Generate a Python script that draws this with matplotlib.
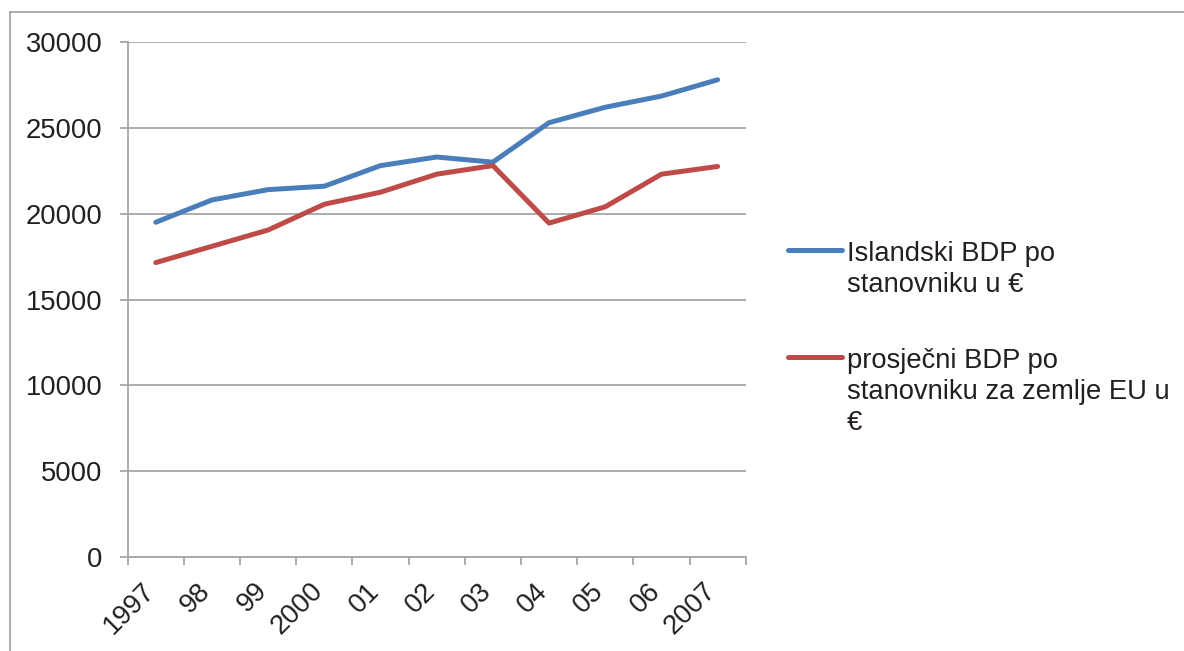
import numpy as np
import matplotlib
matplotlib.use("Agg")
import matplotlib.pyplot as plt
from matplotlib.lines import Line2D
from matplotlib.transforms import ScaledTranslation

plt.rcParams['font.family'] = ['Liberation Sans', 'DejaVu Sans']

years = ["1997", "98", "99", "2000", "01", "02", "03", "04", "05", "06", "2007"]
iceland_gdp = [19500, 20800, 21400, 21600, 22800, 23300, 23000, 25300, 26200, 26850, 27800]
eu_avg_gdp = [17150, 18100, 19050, 20550, 21250, 22300, 22800, 19450, 20400, 22300, 22750]
series_labels = ["Islandski BDP po\nstanovniku u €",
                 "prosječni BDP po\nstanovniku za zemlje EU u\n€"]
y_ticks = [0, 5000, 10000, 15000, 20000, 25000, 30000]

BLUE = "#4A7EBB"
RED = "#BE4B48"
GRID = "#A6A6A6"
TEXT = "#231F20"
FS = 19.7

W, H = 1184, 651
fig = plt.figure(figsize=(W / 100, H / 100), dpi=100)
fig.patch.set_facecolor("white")

ax = fig.add_axes([127.7 / W, 1 - 557 / H, (745.7 - 127.7) / W, (557 - 42) / H])

x = np.arange(len(years))
l1, = ax.plot(x, iceland_gdp, color=BLUE, lw=3.6, solid_capstyle="round",
              solid_joinstyle="round")
l2, = ax.plot(x, eu_avg_gdp, color=RED, lw=3.6, solid_capstyle="round",
              solid_joinstyle="round")

ax.set_xlim(-0.5, len(years) - 0.5)
ax.set_ylim(0, 30000)

# category boundaries get tick marks, centres get the labels
ax.set_xticks(np.arange(-0.5, len(years)), labels=[])
ax.set_xticks(x, labels=years, minor=True)
ax.tick_params(axis="x", which="major", length=6, width=1.3, color=GRID)
ax.tick_params(axis="x", which="minor", length=0, pad=15, labelsize=FS,
               labelcolor=TEXT)
shift = ScaledTranslation(4 / 100, 0, fig.dpi_scale_trans)
for lbl in ax.get_xticklabels(minor=True):
    lbl.set_rotation(45)
    lbl.set_ha("right")
    lbl.set_va("top")
    lbl.set_transform(lbl.get_transform() + shift)

ax.set_yticks(y_ticks, labels=[str(v) for v in y_ticks])
ax.tick_params(axis="y", length=6, width=1.3, color=GRID, pad=12,
               labelsize=FS, labelcolor=TEXT)

ax.yaxis.grid(True, color=GRID, lw=1.3)
ax.set_axisbelow(True)
for side in ("top", "right"):
    ax.spines[side].set_visible(False)
for side in ("left", "bottom"):
    ax.spines[side].set_color(GRID)
    ax.spines[side].set_linewidth(1.3)

# legend beside the plot, handle level with the first text line
line_step = 31
legend_rows = [(l1, series_labels[0], 250), (l2, series_labels[1], 357)]
for line, text, ypix in legend_rows:
    yf = 1 - ypix / H
    fig.add_artist(Line2D([788 / W, 842 / W], [yf, yf], color=line.get_color(),
                          lw=3.6, solid_capstyle="round"))
    for k, part in enumerate(text.split("\n")):
        fig.text(847 / W, 1 - (ypix + 11 + k * line_step) / H, part,
                 fontsize=FS, color=TEXT, ha="left", va="baseline")

# chart frame
fig.add_artist(Line2D([10 / W, 10 / W], [0, 1 - 12 / H], color=GRID, lw=1.3))
fig.add_artist(Line2D([10 / W, 1], [1 - 12 / H, 1 - 12 / H], color=GRID, lw=1.3))

fig.savefig("out.png", dpi=100)
